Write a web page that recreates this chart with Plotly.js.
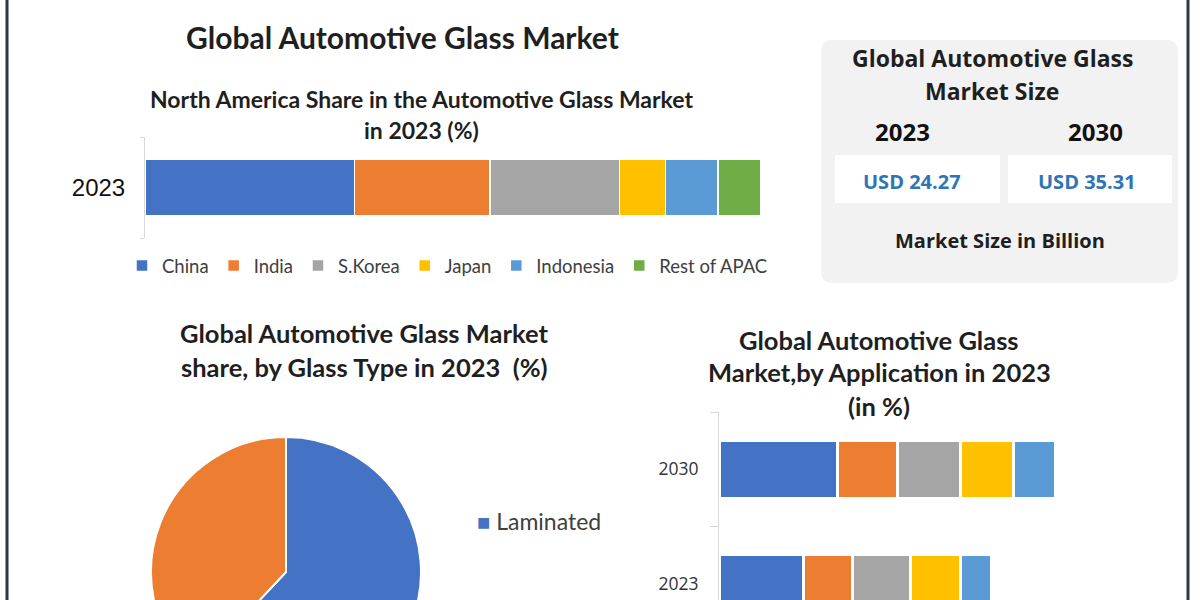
<!DOCTYPE html>
<html>
<head>
<meta charset="utf-8">
<script src="https://cdn.plot.ly/plotly-3.0.1.min.js"></script>
<style>
html,body{margin:0;padding:0;overflow:hidden;background:#ffffff;}
#wrap{width:1200px;height:600px;overflow:hidden;position:relative;}
</style>
</head>
<body>
<div id="wrap"><div id="chart"></div></div>
<script>
// ---------------- DATA ----------------
const regions = ['China', 'India', 'S.Korea', 'Japan', 'Indonesia', 'Rest of APAC'];
const regionShare = [34, 22, 21, 7.5, 8.5, 7];
const regionYear = ['2023'];

const glassTypes = ['Laminated', 'Tempered'];
const glassShare = [62, 38];

const appYears = ['2023', '2030'];
const appSegments = ['Segment 1', 'Segment 2', 'Segment 3', 'Segment 4', 'Segment 5'];
const appValues2023 = [24.9, 14.4, 17.1, 14.7, 9.0];
const appValues2030 = [34.9, 17.5, 18.7, 15.6, 12.2];

const sizeYears = ['2023', '2030'];
const sizeValues = [24.27, 35.31];

const mainTitle = 'Global Automotive Glass Market';
const regionTitle = ['North America Share in the Automotive Glass Market', 'in 2023 (%)'];
const pieTitle = ['Global Automotive Glass Market', 'share, by Glass Type in 2023  (%)'];
const appTitle = ['Global Automotive Glass', 'Market,by Application in 2023', '(in %)'];
const sizeTitle = ['Global Automotive Glass', 'Market Size'];
const sizeFooter = 'Market Size in Billion';
const currency = 'USD';

// ---------------- STYLE ----------------
const palette = ['#4472c4', '#ed7d31', '#a5a5a5', '#ffc000', '#5b9bd5', '#70ad47'];
const W = 1200, H = 720;
const px = x => x / W;
const py = y => 1 - y / H;
const LATO = 'Lato, "Open Sans", sans-serif';
const OPEN = '"Open Sans", "Noto Sans", sans-serif';
const DARK = '#1f1f1f';

function ann(text, x, y, size, opts) {
  opts = opts || {};
  return {
    text: text, xref: 'paper', yref: 'paper', x: px(x), y: py(y),
    xanchor: opts.xanchor || 'center', yanchor: 'middle', showarrow: false,
    font: {family: opts.family || LATO, size: size, color: opts.color || DARK, weight: opts.weight === undefined ? 700 : opts.weight}
  };
}
function roundRect(x0, y0, x1, y1, r) {
  const X = v => px(v).toFixed(5), Y = v => py(v).toFixed(5);
  return 'M' + X(x0 + r) + ',' + Y(y0) +
    ' L' + X(x1 - r) + ',' + Y(y0) + ' Q' + X(x1) + ',' + Y(y0) + ' ' + X(x1) + ',' + Y(y0 + r) +
    ' L' + X(x1) + ',' + Y(y1 - r) + ' Q' + X(x1) + ',' + Y(y1) + ' ' + X(x1 - r) + ',' + Y(y1) +
    ' L' + X(x0 + r) + ',' + Y(y1) + ' Q' + X(x0) + ',' + Y(y1) + ' ' + X(x0) + ',' + Y(y1 - r) +
    ' L' + X(x0) + ',' + Y(y0 + r) + ' Q' + X(x0) + ',' + Y(y0) + ' ' + X(x0 + r) + ',' + Y(y0) + ' Z';
}

// ---------------- TRACES ----------------
const traces = [];
regions.forEach((name, i) => {
  traces.push({
    type: 'bar', orientation: 'h', name: name,
    x: [regionShare[i]], y: [0],
    width: 0.56,
    marker: {color: palette[i], line: {color: '#ffffff', width: 1.5}},
    xaxis: 'x', yaxis: 'y', hoverinfo: 'name+x'
  });
});
appSegments.forEach((name, j) => {
  traces.push({
    type: 'bar', orientation: 'h', name: name,
    x: [appValues2023[j], appValues2030[j]], y: [0, 1],
    width: 0.51,
    marker: {color: palette[j], line: {color: '#ffffff', width: 3}},
    xaxis: 'x2', yaxis: 'y2', showlegend: false
  });
});
traces.push({
  type: 'pie', labels: glassTypes, values: glassShare,
  sort: false, direction: 'clockwise', rotation: 0,
  textinfo: 'none', showlegend: false,
  marker: {colors: palette.slice(0, 2), line: {color: '#ffffff', width: 2}},
  domain: {x: [px(151), px(421)], y: [py(707), py(437)]}
});

// ---------------- ANNOTATIONS ----------------
const annotations = [];
annotations.push(ann(mainTitle, 402, 37, 30));
annotations.push(ann(regionTitle[0], 421, 99, 23));
annotations.push(ann(regionTitle[1], 421, 130, 23));
annotations.push(ann(pieTitle[0], 364, 333, 25.5));
annotations.push(ann(pieTitle[1], 364, 367, 25.5));
annotations.push(ann(appTitle[0], 879, 340, 25.5));
annotations.push(ann(appTitle[1], 879, 372, 25.5));
annotations.push(ann(appTitle[2], 879, 406, 25.5));
// market size panel
annotations.push(ann(sizeTitle[0], 992, 58, 23, {family: OPEN}));
annotations.push(ann(sizeTitle[1], 992, 91, 23, {family: OPEN}));
annotations.push(ann(sizeYears[0], 903, 131, 24, {family: OPEN, color: '#111'}));
annotations.push(ann(sizeYears[1], 1095, 131, 24, {family: OPEN, color: '#111'}));
annotations.push(ann(currency + ' ' + sizeValues[0].toFixed(2), 912, 181, 20, {family: OPEN, color: '#2f75b5'}));
annotations.push(ann(currency + ' ' + sizeValues[1].toFixed(2), 1087, 181, 20, {family: OPEN, color: '#2f75b5'}));
annotations.push(ann(sizeFooter, 1000, 241, 20, {family: OPEN}));
// pie legend (only first entry visible in reference)
annotations.push(ann('<span style="color:' + palette[0] + ';font-size:22px">■</span> ' + glassTypes[0], 475, 521, 23, {xanchor: 'left', weight: 400, color: '#404040'}));

// ---------------- SHAPES ----------------
const shapes = [
  {type: 'path', xref: 'paper', yref: 'paper', path: roundRect(821, 40, 1178, 283, 12), fillcolor: '#f2f2f2', line: {width: 0}, layer: 'below'},
  {type: 'rect', xref: 'paper', yref: 'paper', x0: px(835), x1: px(1000), y0: py(203), y1: py(155), fillcolor: '#ffffff', line: {width: 0}, layer: 'below'},
  {type: 'rect', xref: 'paper', yref: 'paper', x0: px(1008), x1: px(1172), y0: py(203), y1: py(155), fillcolor: '#ffffff', line: {width: 0}, layer: 'below'},
  {type: 'line', xref: 'paper', yref: 'paper', x0: px(7), x1: px(7), y0: 0, y1: 1, line: {color: '#2f3747', width: 3}},
  {type: 'line', xref: 'paper', yref: 'paper', x0: px(1188), x1: px(1188), y0: 0, y1: 1, line: {color: '#2f3747', width: 3}}
];

// ---------------- LAYOUT ----------------
const layout = {
  width: W, height: H,
  margin: {l: 0, r: 0, t: 0, b: 0, pad: 0},
  paper_bgcolor: '#ffffff', plot_bgcolor: 'rgba(0,0,0,0)',
  barmode: 'stack',
  showlegend: true,
  legend: {
    orientation: 'h', x: px(122), y: py(266), xanchor: 'left', yanchor: 'middle',
    traceorder: 'normal', font: {family: LATO, size: 18.5, color: '#404040'},
    bgcolor: 'rgba(0,0,0,0)', itemclick: false
  },
  xaxis: {domain: [px(145), px(761)], range: [0, 100], showticklabels: false, showgrid: false, zeroline: false, showline: false, fixedrange: true},
  yaxis: {
    domain: [py(238), py(137)], range: [-0.5, 0.5],
    tickmode: 'array', tickvals: [0], ticktext: regionYear,
    tickfont: {family: '"Liberation Sans", Arial, sans-serif', size: 24, color: '#111'},
    ticks: '', ticklabelstandoff: 14,
    showline: true, linecolor: '#d9d9d9', linewidth: 1, showgrid: false, zeroline: false,
    minor: {tickmode: 'array', tickvals: [-0.5, 0.5], ticks: 'outside', ticklen: 4, tickcolor: '#d9d9d9', showgrid: false},
    fixedrange: true
  },
  xaxis2: {domain: [px(719), px(1059)], range: [0, 100], anchor: 'y2', showticklabels: false, showgrid: false, zeroline: false, showline: false, fixedrange: true},
  yaxis2: {
    domain: [py(641), py(412)], range: [-0.5, 1.5], anchor: 'x2',
    tickmode: 'array', tickvals: [0, 1], ticktext: appYears,
    tickfont: {family: OPEN, size: 17.5, color: '#333'},
    ticks: '', ticklabelstandoff: 16,
    showline: true, linecolor: '#d9d9d9', linewidth: 1, showgrid: false, zeroline: false,
    minor: {tickmode: 'array', tickvals: [0.5, 1.5], ticks: 'outside', ticklen: 8, tickcolor: '#d9d9d9', showgrid: false},
    fixedrange: true
  },
  annotations: annotations,
  shapes: shapes
};

Plotly.newPlot('chart', traces, layout, {displayModeBar: false, staticPlot: true});
</script>
</body>
</html>
